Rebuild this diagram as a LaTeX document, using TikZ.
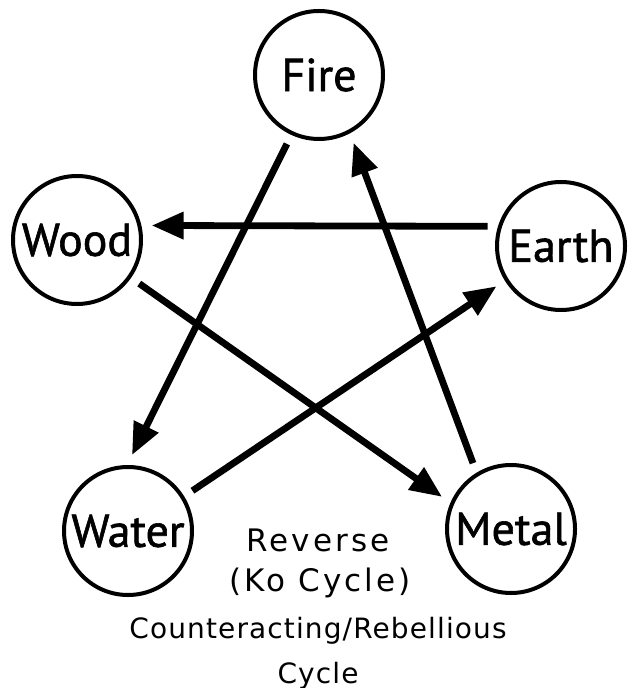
\documentclass[tikz,border=0pt]{standalone}
\usepackage{fontspec}
\usepackage{tikz}
\usetikzlibrary{arrows.meta}
\newfontfamily\elemfont[FakeBold=1.3]{PT Sans}
\newfontfamily\capfont[LetterSpace=4]{DejaVu Sans}
\newfontfamily\revfont[LetterSpace=10]{DejaVu Sans}

\begin{document}
\begin{tikzpicture}[x=0.5pt,y=-0.5pt,
  element/.style={circle,draw,line width=2pt,minimum size=64pt,inner sep=0pt,
    outer sep=6pt,font=\elemfont\fontsize{23}{26}\selectfont},
  cyclearrow/.style={line width=3.4pt,-{Triangle[length=16pt,width=13pt]}},
  caption/.style={anchor=base,inner sep=0pt,font=\capfont\fontsize{14}{17}\selectfont}]
  \useasboundingbox (0,0) rectangle (632,688);
  \node[element] (fire)  at (319,75)  {Fire};
  \node[element] (wood)  at (77,240)  {Wood};
  \node[element] (earth) at (561,246) {Earth};
  \node[element] (water) at (128,531) {Water};
  \node[element] (metal) at (511,529) {Metal};
  \foreach \from/\to in {fire.245/water.87, metal.120/fire.297, earth.165/wood.11,
      water.32/earth.212, wood.325/metal.155}
    \draw[cyclearrow] (\from) -- (\to);
  \node[caption,font=\revfont\fontsize{15.5}{17}\selectfont] (reverse) at (318,551) {Reverse};
  \node[caption,font=\revfont\fontsize{15.5}{17}\selectfont] (ko)      at (320,591) {(Ko Cycle)};
  \node[caption] (counter) at (318,638) {Counteracting/Rebellious};
  \node[caption] (cycle)   at (318,683) {Cycle};
\end{tikzpicture}
\end{document}
